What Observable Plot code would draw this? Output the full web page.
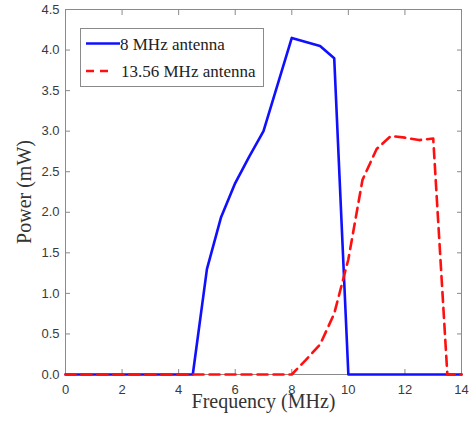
<!DOCTYPE html>
<html>
<head>
<meta charset="utf-8">
<script src="https://cdn.jsdelivr.net/npm/d3@7"></script>
<script src="https://cdn.jsdelivr.net/npm/@observablehq/plot@0.6"></script>
<style>
  body { margin: 0; background: #fff; }
</style>
</head>
<body>
<div id="wrap"></div>
<script>
const seriesNames = ["8 MHz antenna", "13.56 MHz antenna"];
const seriesColors = ["#1010ff", "#ff1010"];
const freqBlue = [0, 4.5, 5, 5.5, 6, 6.5, 7, 8, 9, 9.5, 10, 14];
const powerBlue = [0, 0, 1.3, 1.94, 2.36, 2.69, 3.0, 4.15, 4.05, 3.9, 0, 0];
const freqRed = [0, 8, 8.5, 9, 9.5, 10, 10.5, 11, 11.5, 12, 12.5, 13, 13.5, 14];
const powerRed = [0, 0, 0.18, 0.37, 0.75, 1.42, 2.4, 2.78, 2.94, 2.92, 2.89, 2.91, 0, 0];
const xTicks = [0, 2, 4, 6, 8, 10, 12, 14];
const yTicks = [0, 0.5, 1, 1.5, 2, 2.5, 3, 3.5, 4, 4.5];

const blue = freqBlue.map((f, i) => ({f, p: powerBlue[i]}));
const red = freqRed.map((f, i) => ({f, p: powerRed[i]}));

const frameColor = "#8a8a8a";
const tickFont = "Liberation Sans, Arial, sans-serif";
const serif = "'Liberation Serif', 'Times New Roman', serif";

// MATLAB-style legend box drawn inside the Plot SVG
function legendMark(index, scales, values, dimensions) {
  const g = d3.create("svg:g")
    .attr("transform", `translate(${dimensions.marginLeft + 15},${dimensions.marginTop + 19})`)
    .style("font-family", serif)
    .attr("text-anchor", "start");
  g.append("rect").attr("x", 0.5).attr("y", 0.5).attr("width", 183).attr("height", 58)
    .attr("fill", "#fff").attr("stroke", frameColor);
  seriesNames.forEach((name, i) => {
    const cy = i === 0 ? 15.5 : 43;
    const ln = g.append("line")
      .attr("x1", 6).attr("x2", i === 0 ? 40 : 28).attr("y1", cy).attr("y2", cy)
      .attr("stroke", seriesColors[i]).attr("stroke-width", 2.6);
    if (i === 1) ln.attr("stroke-dasharray", "8,6");
    g.append("text")
      .attr("x", i === 0 ? 40 : 41).attr("y", cy + 6)
      .attr("text-anchor", "start")
      .style("font-family", serif).style("font-size", "17px").attr("fill", "#222")
      .text(name);
  });
  return g.node();
}

const chart = Plot.plot({
  width: 476, height: 421,
  marginTop: 9, marginRight: 15, marginBottom: 47, marginLeft: 65,
  style: {background: "#fff", overflow: "visible"},
  x: {domain: [0, 14]},
  y: {domain: [0, 4.5]},
  marks: [
    Plot.frame({stroke: frameColor, strokeWidth: 1}),
    // inward ticks on all four sides
    Plot.axisX(xTicks, {anchor: "bottom", tickSize: -5, tickFormat: () => "", label: null, stroke: frameColor}),
    Plot.axisX(xTicks, {anchor: "top", tickSize: -5, tickFormat: () => "", label: null, stroke: frameColor}),
    Plot.axisY(yTicks, {anchor: "left", tickSize: -5, tickFormat: () => "", label: null, stroke: frameColor}),
    Plot.axisY(yTicks, {anchor: "right", tickSize: -5, tickFormat: () => "", label: null, stroke: frameColor}),
    // tick labels
    Plot.axisX(xTicks, {anchor: "bottom", tickSize: 0, tickPadding: 10, label: null, fontSize: 13, fontFamily: tickFont, fill: "#3a3a3a"}),
    Plot.axisY(yTicks, {anchor: "left", tickSize: 0, tickPadding: 6, label: null, fontSize: 13, fontFamily: tickFont, fill: "#3a3a3a"}),
    // axis titles
    Plot.text(["Frequency (MHz)"], {frameAnchor: "bottom", lineAnchor: "middle", textAnchor: "middle", dy: 27, fontSize: 20, fontFamily: serif, fill: "#333"}),
    Plot.text(["Power (mW)"], {frameAnchor: "left", lineAnchor: "middle", textAnchor: "middle", dx: -41, rotate: -90, fontSize: 20, fontFamily: serif, fill: "#333"}),
    // data
    Plot.line(blue, {x: "f", y: "p", stroke: seriesColors[0], strokeWidth: 2.6}),
    Plot.line(red, {x: "f", y: "p", stroke: seriesColors[1], strokeWidth: 2.6, strokeDasharray: "10,6"}),
    legendMark
  ]
});

document.getElementById("wrap").appendChild(chart);
</script>
</body>
</html>
